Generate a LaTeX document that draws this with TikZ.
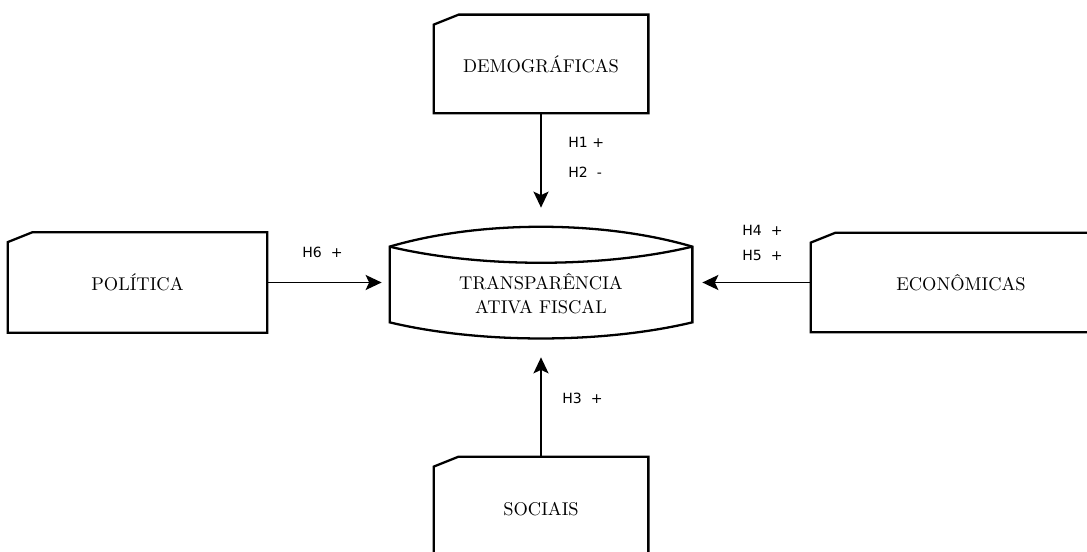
\documentclass[tikz,border=0pt]{standalone}
\usepackage{fontspec}
\usetikzlibrary{arrows.meta}
\newfontfamily\hypfont{DejaVu Sans}

\begin{document}
\begin{tikzpicture}[
    factor/.style={rectangle, inner sep=0pt, align=center, font=\fontsize{10.5}{14}\selectfont},
    outline/.style={draw=black, line width=1.3pt, line join=miter},
    link/.style={-{Stealth[length=0.32cm, width=0.3cm, inset=0.07cm]}, black, line width=1.1pt},
    hyp/.style={anchor=west, inner sep=0pt, font=\hypfont\fontsize{8}{10}\selectfont}
  ]
    \useasboundingbox (0,0) rectangle (21.74,-11.04);
    \clip (0,0) rectangle (21.74,-11.04);

    % Factor boxes
    \node[factor, minimum width=4.28cm, minimum height=1.96cm] (demo) at (10.82,-1.28) {DEMOGRÁFICAS};
    \node[factor, minimum width=5.18cm, minimum height=2.00cm] (pol) at (2.75,-5.65) {POLÍTICA};
    \node[factor, minimum width=6.00cm, minimum height=1.98cm] (eco) at (19.22,-5.65) {ECONÔMICAS};
    \node[factor, minimum width=4.28cm, minimum height=2.08cm] (soc) at (10.82,-10.18) {SOCIAIS};

    % Central construct
    \node[factor, minimum width=6.04cm, minimum height=2.22cm,
      label={[factor, yshift=-0.22cm]center:TRANSPARÊNCIA\\ATIVA FISCAL}] (trans) at (10.82,-5.65) {};

    % Box outlines with the cut corner
    \foreach \n in {demo, pol, eco, soc} {
      \draw[outline] ([yshift=-0.2cm]\n.north west) -- ([xshift=0.5cm]\n.north west)
        -- (\n.north east) -- (\n.south east) -- (\n.south west) -- cycle;
    }

    % Outline of the central shape
    \draw[outline] ([yshift=-0.4cm]trans.north west)
      .. controls +(1.8,0.53) and +(-1.8,0.53) .. ([yshift=-0.4cm]trans.north east)
      -- ([yshift=0.32cm]trans.south east)
      .. controls +(-1.8,-0.43) and +(1.8,-0.43) .. ([yshift=0.32cm]trans.south west)
      -- cycle;
    \draw[outline] ([yshift=-0.4cm]trans.north west)
      .. controls +(1.8,-0.43) and +(-1.8,-0.43) .. ([yshift=-0.4cm]trans.north east);

    % Hypothesis arrows
    \draw[link, shorten >=0.38cm] (demo) -- (trans);
    \draw[link, shorten >=0.38cm] (soc) -- (trans);
    \draw[link, shorten >=0.16cm] (pol) -- (trans);
    \draw[link, shorten >=0.20cm] (eco) -- (trans);

    % Hypothesis labels
    \node[hyp] (h1) at (11.36,-2.84) {H1 +};
    \node[hyp] (h2) at (11.36,-3.44) {H2~ -};
    \node[hyp] (h3) at (11.24,-7.96) {H3~ +};
    \node[hyp] (h4) at (14.84,-4.60) {H4~ +};
    \node[hyp] (h5) at (14.84,-5.10) {H5~ +};
    \node[hyp] (h6) at (6.04,-5.04) {H6~ +};
  \end{tikzpicture}
\end{document}
